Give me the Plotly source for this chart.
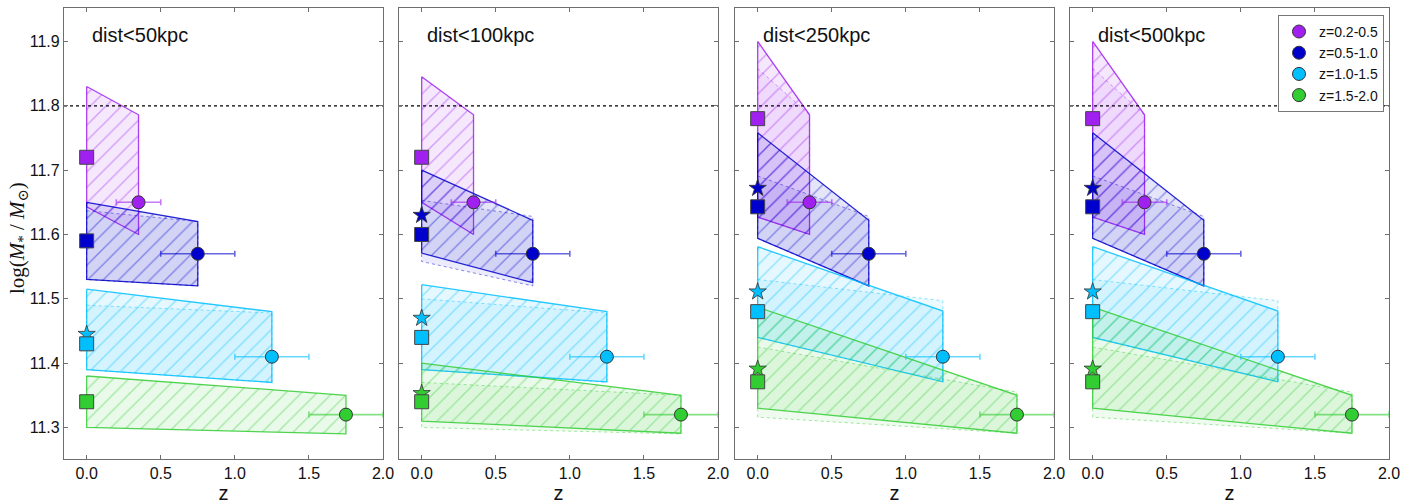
import plotly.graph_objects as go

panels = ["dist<50kpc", "dist<100kpc", "dist<250kpc", "dist<500kpc"]
bins = ["z=0.2-0.5", "z=0.5-1.0", "z=1.0-1.5", "z=1.5-2.0"]
colors = ["#a020f0", "#0000cd", "#00bfff", "#32cd32"]

z_mid = [0.35, 0.75, 1.25, 1.75]
z_lo = [0.2, 0.5, 1.0, 1.5]
z_hi = [0.5, 1.0, 1.5, 2.0]
mass_at_z = [11.65, 11.57, 11.41, 11.32]

# hatched bands: log mass at z=0 and at z_mid (top / bottom edge), per panel, per bin
band_top_z0 = [[11.83, 11.65, 11.515, 11.38],
               [11.845, 11.70, 11.522, 11.40],
               [11.90, 11.758, 11.581, 11.487],
               [11.90, 11.758, 11.581, 11.487]]
band_top_zm = [[11.786, 11.62, 11.48, 11.35],
               [11.786, 11.622, 11.48, 11.35],
               [11.786, 11.622, 11.481, 11.35],
               [11.786, 11.622, 11.481, 11.35]]
band_bot_z0 = [[11.643, 11.53, 11.39, 11.30],
               [11.65, 11.571, 11.39, 11.31],
               [11.627, 11.594, 11.44, 11.33],
               [11.627, 11.594, 11.44, 11.33]]
band_bot_zm = [[11.60, 11.52, 11.37, 11.29],
               [11.60, 11.525, 11.371, 11.291],
               [11.60, 11.52, 11.371, 11.291],
               [11.60, 11.52, 11.371, 11.291]]

# secondary (dotted) bands
alt_top_z0 = [[None, 11.637, 11.49, None],
              [None, 11.653, 11.50, 11.37],
              [11.858, 11.691, 11.53, 11.425],
              [11.858, 11.691, 11.53, 11.425]]
alt_top_zm = [[None, 11.62, 11.478, None],
              [None, 11.628, 11.478, 11.35],
              [11.786, 11.628, 11.497, 11.355],
              [11.786, 11.628, 11.497, 11.355]]
alt_bot_z0 = [[None, 11.53, 11.39, None],
              [None, 11.558, 11.39, 11.30],
              [11.627, 11.594, 11.44, 11.316],
              [11.627, 11.594, 11.44, 11.316]]
alt_bot_zm = [[None, 11.52, 11.37, None],
              [None, 11.52, 11.37, 11.29],
              [11.60, 11.52, 11.371, 11.291],
              [11.60, 11.52, 11.371, 11.291]]

# z=0 points
square_mass = [[11.72, 11.59, 11.43, 11.34],
               [11.72, 11.60, 11.44, 11.34],
               [11.78, 11.643, 11.48, 11.371],
               [11.78, 11.643, 11.48, 11.371]]
star_mass = [[None, None, 11.445, None],
             [None, 11.63, 11.47, 11.353],
             [None, 11.672, 11.511, 11.391],
             [None, 11.672, 11.511, 11.391]]

threshold = 11.8
x_ticks = [0.0, 0.5, 1.0, 1.5, 2.0]
y_ticks = [11.3, 11.4, 11.5, 11.6, 11.7, 11.8, 11.9]


def rgba(hexc, a):
    h = hexc.lstrip("#")
    r, g, b = int(h[0:2], 16), int(h[2:4], 16), int(h[4:6], 16)
    return f"rgba({r},{g},{b},{a})"


W, H = 1414, 504
ml, mr, mt, mb = 64, 25, 7, 41
pw = W - ml - mr
ph = H - mt - mb
panel_px = [(0, 319), (335, 654), (671, 990), (1006, 1325)]

fig = go.Figure()
font_sans = "Liberation Sans, Arial, sans-serif"

for p in range(4):
    xa = "x" if p == 0 else f"x{p+1}"
    ya = "y" if p == 0 else f"y{p+1}"
    # secondary dotted bands
    for i in range(4):
        if alt_top_z0[p][i] is None:
            continue
        c = colors[i]
        fig.add_trace(go.Scatter(
            x=[0, z_mid[i], z_mid[i], 0, 0],
            y=[alt_top_z0[p][i], alt_top_zm[p][i], alt_bot_zm[p][i], alt_bot_z0[p][i], alt_top_z0[p][i]],
            mode="lines", fill="toself", fillcolor=rgba(c, 0.08),
            line=dict(color=rgba(c, 0.45), width=1, dash="dot"),
            hoverinfo="skip", showlegend=False, xaxis=xa, yaxis=ya))
    # main hatched bands
    for i in range(4):
        c = colors[i]
        fig.add_trace(go.Scatter(
            x=[0, z_mid[i], z_mid[i], 0, 0],
            y=[band_top_z0[p][i], band_top_zm[p][i], band_bot_zm[p][i], band_bot_z0[p][i], band_top_z0[p][i]],
            mode="lines", fill="toself", fillcolor=rgba(c, 0.1),
            fillpattern=dict(shape="/", fgcolor=rgba(c, 0.8), bgcolor=rgba(c, 0.1),
                             size=11, solidity=0.12),
            line=dict(color=rgba(c, 0.85), width=1.3),
            hoverinfo="skip", showlegend=False, xaxis=xa, yaxis=ya))
    # threshold line
    fig.add_trace(go.Scatter(
        x=[-0.153, 2.0], y=[threshold, threshold], mode="lines",
        line=dict(color="black", width=1.3, dash="dot"),
        hoverinfo="skip", showlegend=False, xaxis=xa, yaxis=ya))
    # stars
    for i in range(4):
        if star_mass[p][i] is None:
            continue
        fig.add_trace(go.Scatter(
            x=[0], y=[star_mass[p][i]], mode="markers",
            marker=dict(symbol="star", size=13, color=colors[i], line=dict(color="#333", width=0.8)),
            showlegend=False, hoverinfo="skip", cliponaxis=False, xaxis=xa, yaxis=ya))
    # squares
    for i in range(4):
        fig.add_trace(go.Scatter(
            x=[0], y=[square_mass[p][i]], mode="markers",
            marker=dict(symbol="square", size=14, color=colors[i], line=dict(color="#444", width=1)),
            showlegend=False, hoverinfo="skip", cliponaxis=False, xaxis=xa, yaxis=ya))
    # circles with error bars
    for i in range(4):
        c = colors[i]
        fig.add_trace(go.Scatter(
            x=[z_mid[i]], y=[mass_at_z[i]], mode="markers", name=bins[i],
            marker=dict(symbol="circle", size=13, color=c, line=dict(color="#333", width=1)),
            error_x=dict(type="data", symmetric=False,
                         array=[z_hi[i] - z_mid[i]], arrayminus=[z_mid[i] - z_lo[i]],
                         color=rgba(c, 0.6), thickness=1.6, width=3),
            showlegend=(p == 3), hoverinfo="skip", xaxis=xa, yaxis=ya))

axis_common = dict(showline=True, linecolor="#6e6e6e", linewidth=1.3, mirror="ticks",
                   ticks="inside", ticklen=4, tickcolor="#6e6e6e", showgrid=False,
                   zeroline=False)
layout = dict(
    width=W, height=H, margin=dict(l=ml, r=mr, t=mt, b=mb),
    plot_bgcolor="white", paper_bgcolor="white",
    font=dict(family=font_sans, color="#111"),
    showlegend=True,
    legend=dict(x=(1384 - ml) / pw, xanchor="right", y=(H - mb - 14) / ph, yanchor="top",
                bordercolor="#777", borderwidth=1, bgcolor="white",
                font=dict(size=14, family=font_sans, color="#111"),
                tracegroupgap=0, itemwidth=30),
)
annotations = []
for p in range(4):
    xk = "xaxis" if p == 0 else f"xaxis{p+1}"
    yk = "yaxis" if p == 0 else f"yaxis{p+1}"
    xa = "x" if p == 0 else f"x{p+1}"
    ya = "y" if p == 0 else f"y{p+1}"
    d0, d1 = panel_px[p]
    layout[xk] = dict(axis_common, domain=[d0 / pw, d1 / pw], range=[-0.153, 2.0],
                      tickvals=x_ticks, ticktext=[f"{v:.1f}" for v in x_ticks],
                      tickfont=dict(size=16, color="#111"), anchor=ya,
                      title=dict(text="z", font=dict(size=20, color="#111"), standoff=1))
    layout[yk] = dict(axis_common, domain=[0, 1], range=[11.251, 11.952], anchor=xa,
                      tickvals=y_ticks, ticktext=[f"{v:.1f}" for v in y_ticks],
                      showticklabels=(p == 0), tickfont=dict(size=16, color="#111"))
    annotations.append(dict(text=panels[p], xref=f"{xa} domain", yref=f"{ya} domain",
                            x=0.08, y=0.94, xanchor="left", yanchor="middle",
                            showarrow=False, font=dict(size=20, family=font_sans, color="#111")))
annotations.append(dict(text="log(<i>M</i><sub>*</sub> / <i>M</i><sub>⊙</sub>)",
                        xref="paper", yref="paper", x=(18 - ml) / pw, y=0.49,
                        textangle=-90, showarrow=False, xanchor="center", yanchor="middle",
                        font=dict(size=21, family="Liberation Serif, DejaVu Serif, serif", color="#111")))
layout["annotations"] = annotations
fig.update_layout(**layout)
fig.write_html("out.html")
